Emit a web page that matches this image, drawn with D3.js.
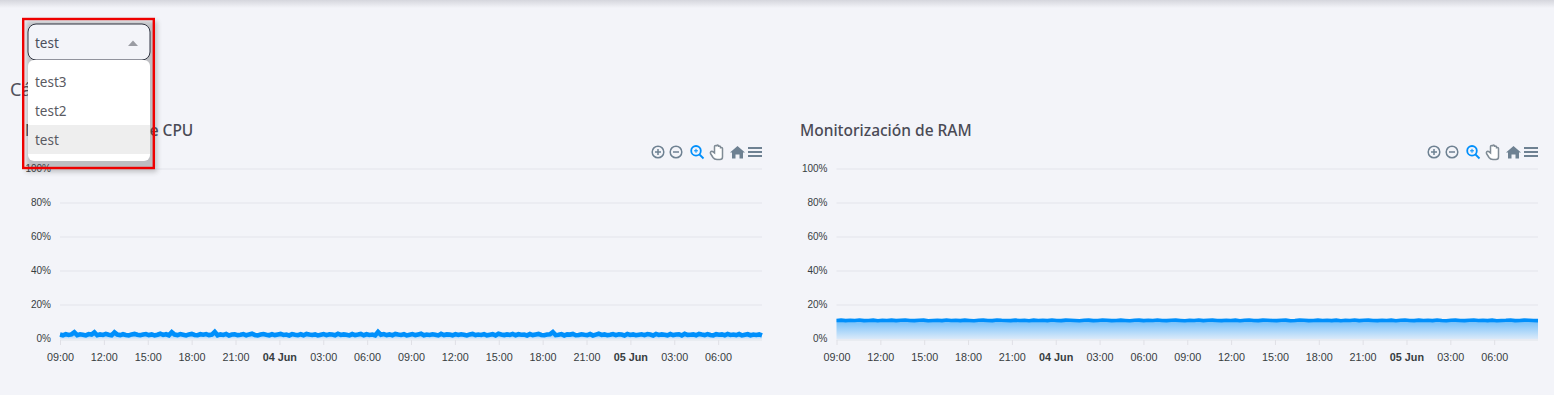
<!DOCTYPE html>
<html><head><meta charset="utf-8">
<script src="https://cdn.jsdelivr.net/npm/d3@7/dist/d3.min.js"></script>
<style>html,body{margin:0;padding:0;background:#f3f4f9;overflow:hidden}svg{display:block}</style>
</head><body><svg id="c" width="1554" height="395"></svg>
<script>
const xTickLabels=["09:00","12:00","15:00","18:00","21:00","04 Jun","03:00","06:00","09:00","12:00","15:00","18:00","21:00","05 Jun","03:00","06:00"];
const yTicks=[0,20,40,60,80,100];
const dropdownOptions=["test3","test2","test"];
const selectedOption="test";
const sectionTitle="Cámaras";
const cpuTitle="Monitorización de CPU";
const ramTitle="Monitorización de RAM";
const cpuValues=[2.6,2.2,2.9,2.4,2.7,4.0,2.3,2.8,2.5,2.1,2.9,2.6,3.9,2.2,2.7,2.4,3.0,2.5,2.2,3.9,2.6,2.3,2.8,2.4,2.1,2.7,3.0,2.5,2.2,2.6,2.9,2.3,2.7,2.1,2.5,3.1,2.4,2.8,2.2,4.0,2.6,2.3,2.9,2.5,2.1,2.7,3.0,2.4,2.2,2.8,2.5,2.9,2.3,2.6,4.2,2.2,2.7,2.4,3.0,2.1,2.6,2.8,2.3,2.5,2.9,2.2,2.7,3.1,2.4,2.1,2.6,2.9,2.5,2.2,2.8,2.3,2.7,3.0,2.4,2.6,2.1,2.9,2.5,2.3,2.8,2.2,3.0,2.6,2.4,2.7,2.1,2.5,2.9,2.3,2.8,2.6,2.2,3.1,2.4,2.7,2.5,2.1,2.9,2.3,2.6,3.0,2.2,2.8,2.4,2.6,2.1,4.2,2.5,2.9,2.3,2.7,2.2,3.0,2.6,2.4,2.8,2.1,2.5,2.9,2.3,2.7,3.1,2.2,2.6,2.4,2.8,2.5,2.1,3.0,2.3,2.7,2.6,2.2,2.9,2.4,2.8,2.5,2.1,2.7,3.0,2.3,2.6,2.4,2.9,2.2,2.5,2.8,2.1,3.1,2.6,2.3,2.7,2.4,3.0,2.2,2.8,2.5,2.6,2.1,2.9,2.3,2.7,3.0,2.4,2.2,2.6,2.8,4.1,2.3,2.5,2.9,2.1,2.7,2.6,3.0,2.2,2.4,2.8,2.5,2.3,2.9,2.1,2.6,3.1,2.4,2.7,2.2,2.5,2.9,2.3,2.8,2.6,2.1,3.0,2.4,2.7,2.2,2.5,2.8,2.3,2.9,2.6,2.1,3.0,2.4,2.7,2.5,2.2,2.9,2.3,2.6,2.8,2.1,3.1,2.4,2.5,2.7,2.2,3.0,2.6,2.3,2.9,2.4,2.1,2.8,2.5,2.7,2.2,3.0,2.4,2.6,2.3,2.9,2.1,2.5,2.8,2.2,2.6,2.4,2.7,2.1];
const ramValues=[10.9,11.1,10.8,11.0,10.9,11.2,10.8,10.9,11.1,10.7,11.0,10.9,11.1,10.8,11.0,11.2,10.9,10.8,11.0,11.1,10.7,10.9,11.0,10.8,11.2,10.9,11.0,10.8,11.1,10.9,10.7,11.0,11.1,10.9,10.8,11.2,11.0,10.9,10.8,11.1,10.9,11.0,10.7,11.1,10.9,11.0,10.8,11.2,10.9,10.8,11.1,11.0,10.9,10.7,11.0,11.1,10.8,10.9,11.2,11.0,10.8,10.9,11.1,10.9,10.7,11.0,11.1,10.8,11.0,10.9,11.2,10.9,10.8,11.0,11.1,10.9,10.7,11.0,10.9,11.2,10.8,11.0,11.1,10.9,10.8,11.0,10.9,11.1,10.7,11.0,11.2,10.9,10.8,11.1,11.0,10.9,10.8,11.0,11.1,10.7,10.9,11.2,11.0,10.8,10.9,11.1,10.9,11.0,10.8,11.1,10.7,11.0,10.9,11.2,10.8,11.0,11.1,10.9,10.8,11.0,10.9,11.1,10.7,11.0,11.2,10.9,10.8,11.1,10.9,11.0,10.8,11.2,10.9,10.7,11.0,11.1,10.9,10.8,11.0,11.2,10.9,11.0,10.8,11.1,10.7,10.9,11.0,11.2,10.8,10.9,11.1,11.0,10.9,10.8];

const svg=d3.select("#c");
const defs=svg.append("defs");
const blue="#008ffb", ink="#373d3f", iconGrey="#6e8192", uiFont="'Noto Sans',sans-serif", axisFont="'Liberation Sans',Arial,sans-serif";

const grad=defs.append("linearGradient").attr("id","areaFill").attr("x1",0).attr("x2",0).attr("y1",0).attr("y2",1);
grad.append("stop").attr("offset","0%").attr("stop-color",blue).attr("stop-opacity",.55);
grad.append("stop").attr("offset","100%").attr("stop-color",blue).attr("stop-opacity",.1);
const topG=defs.append("linearGradient").attr("id","topShade").attr("x1",0).attr("x2",0).attr("y1",0).attr("y2",1);
topG.append("stop").attr("offset","0%").attr("stop-color","#d5d6dd");
topG.append("stop").attr("offset","100%").attr("stop-color","#f3f4f9");
const sh=defs.append("filter").attr("id","soft").attr("x","-20%").attr("y","-20%").attr("width","140%").attr("height","140%");
sh.append("feGaussianBlur").attr("stdDeviation",2.5);

svg.append("rect").attr("width",1554).attr("height",8).attr("fill","url(#topShade)");

svg.append("text").text(sectionTitle).attr("x",10).attr("y",96).attr("font-family",uiFont).attr("font-size",18).attr("fill","#50505c");

const t0=Date.UTC(2024,5,3,9), t1=Date.UTC(2024,5,5,9), hour=3600000;
const xTickTimes=xTickLabels.map((_,i)=>new Date(t0+i*3*hour));

function chart(left,right,title,titleX,values,lineWidth){
  const x=d3.scaleUtc().domain([new Date(t0),new Date(t1)]).range([left,right]);
  const y=d3.scaleLinear().domain([0,100]).range([339,169]);
  const g=svg.append("g");
  g.append("text").text(title).attr("x",titleX).attr("y",136).attr("font-family",uiFont).attr("font-size",15.5).attr("font-weight",500).attr("fill","#4a4a55");

  const gy=g.append("g").attr("transform",`translate(${left},-0.7)`)
    .call(d3.axisLeft(y).tickValues(yTicks).tickFormat(d=>d+"%").tickSize(0).tickPadding(9));
  gy.select(".domain").remove();
  gy.selectAll("text").attr("font-family",axisFont).attr("font-size",10).attr("fill",ink);
  g.append("g").selectAll("line").data(yTicks.filter(d=>d>0)).join("line")
    .attr("x1",left).attr("x2",right).attr("y1",d=>y(d)).attr("y2",d=>y(d))
    .attr("stroke","#e9eaef").attr("stroke-width",1.5);

  const gx=g.append("g").attr("transform","translate(0,340)")
    .call(d3.axisBottom(x).tickValues(xTickTimes).tickFormat((d,i)=>xTickLabels[i]).tickSize(5).tickPadding(8.5));
  gx.select(".domain").attr("stroke","#dfe3ea").attr("d",`M${left},0H${right}`);
  gx.selectAll("line").attr("stroke","#e0e0e6");
  gx.selectAll("text").attr("font-family",axisFont).attr("font-size",10.8).attr("fill",ink)
    .attr("font-weight",(d,i)=>xTickLabels[i].includes("Jun")?700:400);

  const step=(t1-t0)/(values.length-1);
  const pts=values.map((v,i)=>({t:new Date(t0+i*step),v}));
  g.append("path").datum(pts).attr("fill","url(#areaFill)")
    .attr("d",d3.area().x(d=>x(d.t)).y0(y(0)).y1(d=>y(d.v)));
  g.append("path").datum(pts).attr("fill","none").attr("stroke",blue).attr("stroke-width",lineWidth)
    .attr("d",d3.line().x(d=>x(d.t)).y(d=>y(d.v)));

  // toolbar
  const ic=g.append("g").attr("transform",`translate(${right-104},152)`).attr("fill","none").attr("stroke",iconGrey).attr("stroke-width",1.5);
  ic.append("circle").attr("r",5.8);
  ic.append("path").attr("d","M-3,0H3M0,-3V3");
  ic.append("circle").attr("cx",18).attr("r",5.8);
  ic.append("path").attr("d","M15,0H21");
  const z=ic.append("g").attr("stroke",blue).attr("stroke-width",1.8);
  z.append("circle").attr("cx",38).attr("cy",-1.2).attr("r",4.8);
  z.append("path").attr("d","M41.5,2.5L45.5,6.5");
  z.append("path").attr("stroke-width",1).attr("d","M36,-1.2H40M38,-3.2V0.8");
  ic.append("path").attr("fill","#fff").attr("stroke","#7f8b95").attr("stroke-width",1.5)
    .attr("d","M52.5,1.5L55,5.5C56,7 57,7.5 59,7.5H62C63.5,7.5 64.5,6.5 64.5,5V-3.5C64.5,-5 62.5,-5 62.5,-3.5V-5C62.5,-6.5 60.5,-6.5 60.5,-5V-6C60.5,-7.5 58.5,-7.5 58.5,-6V-5.5C58.5,-7 56.5,-7 56.5,-5.5V1L54.5,-.5C53,-1 52,.3 52.5,1.5Z");
  ic.append("path").attr("fill",iconGrey).attr("stroke","none")
    .attr("d","M72,0.5L79.5,-6L87,0.5H85V6.5H81.5V2.5H77.5V6.5H74V0.5Z");
  ic.append("path").attr("stroke-width",1.8).attr("d","M90,-4H104M90,0H104M90,4H104");
}
chart(60,762,cpuTitle,25,cpuValues,4.6);
chart(836.5,1538,ramTitle,800,ramValues,3.6);

// dropdown overlay
const d=svg.append("g");
d.append("rect").attr("x",26).attr("y",21).attr("width",131).attr("height",151).attr("fill","#444").attr("opacity",.3).attr("filter","url(#soft)");
d.append("rect").attr("x",28).attr("y",24).attr("width",122).attr("height",36).attr("rx",8).attr("fill","#f3f4f9").attr("stroke","#2f3340").attr("stroke-width",1);
d.append("text").text(selectedOption).attr("x",35).attr("y",48).attr("font-family",uiFont).attr("font-size",13.5).attr("fill","#4b4f5c");
d.append("path").attr("d","M128,46L133,40.5L138,46Z").attr("fill","#9a9ca3");
d.append("rect").attr("x",28).attr("y",60).attr("width",122).attr("height",101).attr("rx",6).attr("fill","#fff");
d.append("rect").attr("x",28).attr("y",125).attr("width",122).attr("height",29).attr("fill","#eeeeee");
d.selectAll("text.opt").data(dropdownOptions).join("text").attr("class","opt").text(v=>v)
  .attr("x",35).attr("y",(v,i)=>87+i*29).attr("font-family",uiFont).attr("font-size",13.5).attr("fill","#5a5a62");
d.append("rect").attr("x",23.2).attr("y",19).attr("width",130.6).attr("height",149).attr("fill","none").attr("stroke","#ee0000").attr("stroke-width",2.4);
</script></body></html>
